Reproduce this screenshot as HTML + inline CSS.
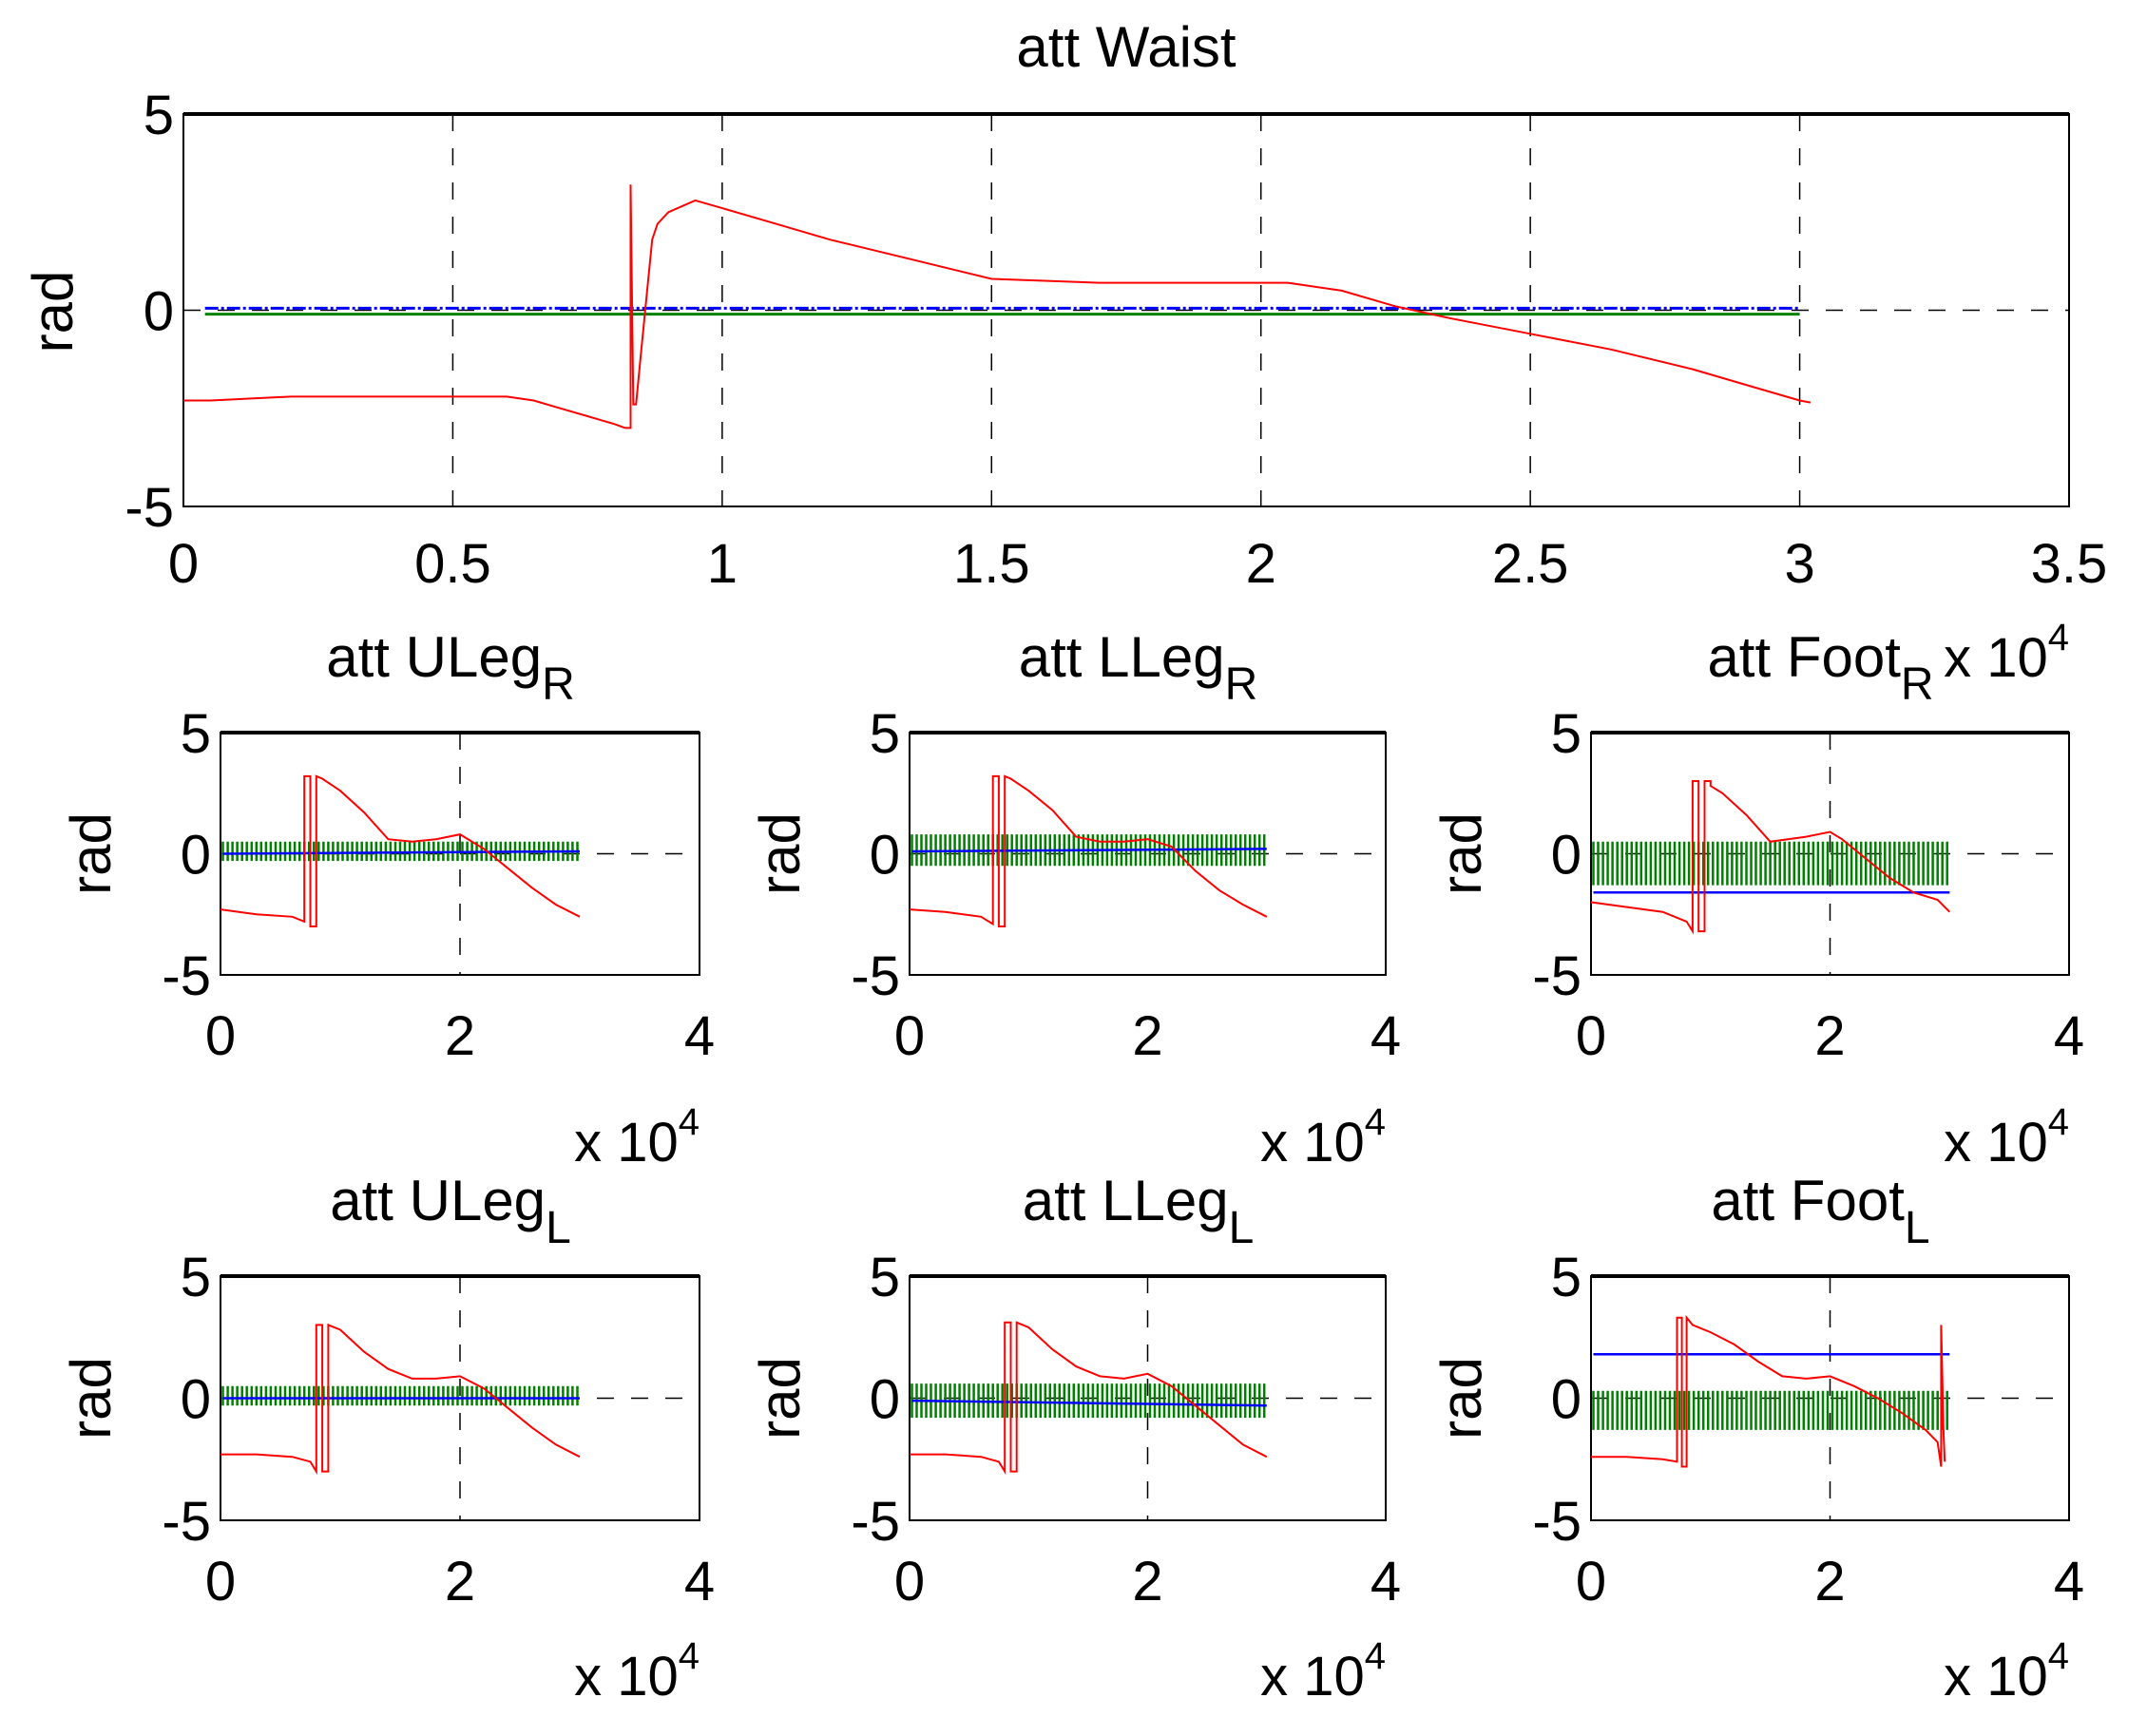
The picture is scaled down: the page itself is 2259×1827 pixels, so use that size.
<!DOCTYPE html>
<html><head><meta charset="utf-8"><style>
html,body{margin:0;padding:0;background:#fff}
svg text{font-family:"Liberation Sans",sans-serif;fill:#000}
</style></head><body>
<svg id="fig" xmlns="http://www.w3.org/2000/svg" width="2259" height="1822" viewBox="0 0 2259 1822"></svg>
<script>
// ---- data (x in units of 1e4 samples, y in rad) ----
const waistRedX=[0,0.05,0.2,0.4,0.6,0.65,0.7,0.75,0.8,0.82,0.83,0.83,0.835,0.84,0.85,0.86,0.87,0.88,0.9,0.95,1.0,1.1,1.2,1.35,1.5,1.7,1.9,2.05,2.15,2.25,2.35,2.5,2.65,2.8,2.9,3.0,3.02];
const waistRedY=[-2.3,-2.3,-2.2,-2.2,-2.2,-2.3,-2.5,-2.7,-2.9,-3.0,-3.0,3.2,-2.4,-2.4,-1.0,0.4,1.8,2.2,2.5,2.8,2.6,2.2,1.8,1.3,0.8,0.7,0.7,0.7,0.5,0.1,-0.2,-0.6,-1.0,-1.5,-1.9,-2.3,-2.35];
const waistBlueX=[0.04,3.0];
const waistBlueY=[0.05,0.05];
const waistGreenX=[0.04,3.0];
const waistGreenY=[-0.1,-0.1];
const xTicksTop=[0,0.5,1,1.5,2,2.5,3,3.5];
const xTickLabelsTop=["0","0.5","1","1.5","2","2.5","3","3.5"];
const yTicks=[-5,0,5];
const yTickLabels=["-5","0","5"];
const xTicksSmall=[0,2,4];
const xTickLabelsSmall=["0","2","4"];

const ulegRRedX=[0,0.3,0.6,0.7,0.7,0.75,0.75,0.8,0.8,0.85,1.0,1.2,1.4,1.6,1.8,2.0,2.2,2.4,2.6,2.8,3.0];
const ulegRRedY=[-2.3,-2.5,-2.6,-2.8,3.2,3.2,-3.0,-3.0,3.2,3.1,2.6,1.7,0.6,0.5,0.6,0.8,0.2,-0.6,-1.4,-2.1,-2.6];
const ulegRBlue=[0.0,0.1];
const ulegRGreenLo=[-0.3,-0.3];
const ulegRGreenHi=[0.5,0.5];

const llegRRedX=[0,0.3,0.6,0.7,0.7,0.75,0.75,0.8,0.8,0.85,1.0,1.2,1.4,1.6,1.8,2.0,2.2,2.4,2.6,2.8,3.0];
const llegRRedY=[-2.3,-2.4,-2.6,-2.9,3.2,3.2,-3.0,-3.0,3.2,3.1,2.6,1.8,0.7,0.5,0.5,0.6,0.3,-0.7,-1.5,-2.1,-2.6];
const llegRBlue=[0.1,0.2];
const llegRGreenLo=[-0.5,-0.5];
const llegRGreenHi=[0.8,0.8];

const footRRedX=[0,0.3,0.6,0.8,0.85,0.85,0.9,0.9,0.95,0.95,1.0,1.0,1.1,1.3,1.5,1.8,2.0,2.1,2.3,2.5,2.7,2.9,3.0];
const footRRedY=[-2.0,-2.2,-2.4,-2.8,-3.2,3.0,3.0,-3.2,-3.2,3.0,3.0,2.8,2.5,1.6,0.5,0.7,0.9,0.6,-0.2,-1.0,-1.6,-1.9,-2.4];
const footRBlue=[-1.6,-1.6];
const footRGreenLo=[-1.3,-1.3];
const footRGreenHi=[0.5,0.5];

const ulegLRedX=[0,0.3,0.6,0.75,0.8,0.8,0.85,0.85,0.9,0.9,1.0,1.2,1.4,1.6,1.8,2.0,2.2,2.4,2.6,2.8,3.0];
const ulegLRedY=[-2.3,-2.3,-2.4,-2.6,-3.0,3.0,3.0,-3.0,-3.0,3.0,2.8,1.9,1.2,0.8,0.8,0.9,0.4,-0.4,-1.2,-1.9,-2.4];
const ulegLBlue=[0.0,0.0];
const ulegLGreenLo=[-0.3,-0.3];
const ulegLGreenHi=[0.5,0.5];

const llegLRedX=[0,0.3,0.6,0.75,0.8,0.8,0.85,0.85,0.9,0.9,1.0,1.2,1.4,1.6,1.8,2.0,2.2,2.4,2.6,2.8,3.0];
const llegLRedY=[-2.3,-2.3,-2.4,-2.6,-3.0,3.1,3.1,-3.0,-3.0,3.1,2.9,2.0,1.3,0.9,0.8,1.0,0.5,-0.3,-1.1,-1.9,-2.4];
const llegLBlue=[-0.1,-0.3];
const llegLGreenLo=[-0.8,-0.8];
const llegLGreenHi=[0.6,0.6];

const footLRedX=[0,0.3,0.6,0.72,0.72,0.76,0.76,0.8,0.8,0.85,1.0,1.2,1.4,1.6,1.8,2.0,2.2,2.4,2.6,2.8,2.9,2.93,2.93,2.95,2.96];
const footLRedY=[-2.4,-2.4,-2.5,-2.6,3.3,3.3,-2.8,-2.8,3.3,3.0,2.7,2.2,1.5,0.9,0.8,0.9,0.5,0.0,-0.6,-1.3,-1.8,-2.8,3.0,-1.5,-2.6];
const footLBlue=[1.8,1.8];
const footLGreenLo=[-1.3,-1.3];
const footLGreenHi=[0.3,0.3];

// ---- drawing ----
const NS="http://www.w3.org/2000/svg";
const svg=document.getElementById('fig');
function el(tag,attrs,parent,txt){const e=document.createElementNS(NS,tag);for(const k in attrs)e.setAttribute(k,attrs[k]);if(txt!==undefined)e.textContent=txt;(parent||svg).appendChild(e);return e;}
function axes(L,R,T,B,xmax){return {sx:v=>L+(R-L)*v/xmax,sy:v=>T+(B-T)*(5-v)/10,L,R,T,B};}
function pts(a,xs,ys){return xs.map((x,i)=>a.sx(x).toFixed(1)+','+a.sy(ys[i]).toFixed(1)).join(' ');}

const FS=58;
function frame(g,a,xt,xl,vgrid,xoff){
  el('rect',{x:a.L,y:a.T,width:a.R-a.L,height:a.B-a.T,fill:'#fff',stroke:'#000','stroke-width':2},g);
  vgrid.forEach(v=>{const l=el('line',{x1:a.sx(v),x2:a.sx(v),y1:a.T,y2:a.B,stroke:'#000','stroke-width':1.5,'stroke-dasharray':'18,18'},g);});
  const h=el('line',{x1:a.L,x2:a.R,y1:a.sy(0),y2:a.sy(0),stroke:'#000','stroke-width':1.5,'stroke-dasharray':'18,18'},g);
  
  el('line',{x1:a.L,x2:a.R,y1:a.T,y2:a.T,stroke:'#000','stroke-width':4},g);
  xt.forEach((v,i)=>{const t=el('text',{x:a.sx(v),y:a.B+xoff,'font-size':FS,'text-anchor':'middle'},g,xl[i]);});
  yTicks.forEach((v,i)=>{const t=el('text',{x:a.L-10,y:a.sy(v)+21,'font-size':FS,'text-anchor':'end'},g,yTickLabels[i]);});
}
function ylabel(g,x,y){const t=el('text',{x:x,y:y,'font-size':60,'text-anchor':'middle',transform:`rotate(-90 ${x} ${y})`},g,'rad');}

// top plot
const gTop=el('g',{});
const aTop=axes(193,2177,120,533,3.5);
frame(gTop,aTop,xTicksTop,xTickLabelsTop,[0.5,1,1.5,2,2.5,3],80);
let t=el('text',{x:1185,y:70,'font-size':60,'text-anchor':'middle'},gTop,'att Waist');
ylabel(gTop,76,328);
let ex0=el('text',{x:2177,y:712,'font-size':58,'text-anchor':'end'},gTop);
el('tspan',{},ex0,'x 10');el('tspan',{dy:-28,'font-size':40},ex0,'4');
let s=el('polyline',{points:pts(aTop,waistGreenX,waistGreenY),fill:'none',stroke:'#008000','stroke-width':3},gTop);
s=el('polyline',{points:pts(aTop,waistBlueX,waistBlueY),fill:'none',stroke:'#0000ff','stroke-width':3,'stroke-dasharray':'14,3,3,3'},gTop);
s=el('polyline',{points:pts(aTop,waistRedX,waistRedY),fill:'none',stroke:'#ff0000','stroke-width':2},gTop);

// small plots
const cols=[[232,736],[957,1458],[1674,2177]];
const rows=[[771,1026],[1343,1600]];
const expOff=[196,184];
const subs=[
 {r:0,c:0,title:'att ULeg',sub:'R',rx:ulegRRedX,ry:ulegRRedY,b:ulegRBlue,lo:ulegRGreenLo,hi:ulegRGreenHi,vg:[2],name:'uleg-r-plot'},
 {r:0,c:1,title:'att LLeg',sub:'R',rx:llegRRedX,ry:llegRRedY,b:llegRBlue,lo:llegRGreenLo,hi:llegRGreenHi,vg:[],name:'lleg-r-plot'},
 {r:0,c:2,title:'att Foot',sub:'R',rx:footRRedX,ry:footRRedY,b:footRBlue,lo:footRGreenLo,hi:footRGreenHi,vg:[2],name:'foot-r-plot'},
 {r:1,c:0,title:'att ULeg',sub:'L',rx:ulegLRedX,ry:ulegLRedY,b:ulegLBlue,lo:ulegLGreenLo,hi:ulegLGreenHi,vg:[2],name:'uleg-l-plot'},
 {r:1,c:1,title:'att LLeg',sub:'L',rx:llegLRedX,ry:llegLRedY,b:llegLBlue,lo:llegLGreenLo,hi:llegLGreenHi,vg:[2],name:'lleg-l-plot'},
 {r:1,c:2,title:'att Foot',sub:'L',rx:footLRedX,ry:footLRedY,b:footLBlue,lo:footLGreenLo,hi:footLGreenHi,vg:[2],name:'foot-l-plot'}
];
subs.forEach(p=>{
  const [L,R]=cols[p.c],[T,B]=rows[p.r];
  const a=axes(L,R,T,B,4);
  const g=el('g',{});
  frame(g,a,xTicksSmall,xTickLabelsSmall,p.vg,84);
  ylabel(g,L-116,(T+B)/2);
  const tt=el('text',{x:(L+R)/2-10,y:T-59,'font-size':60,'text-anchor':'middle'},g);
  
  el('tspan',{},tt,p.title);el('tspan',{dy:24,'font-size':48},tt,p.sub);
  const ex=el('text',{x:R,y:B+expOff[p.r],'font-size':58,'text-anchor':'end'},g);
  el('tspan',{},ex,'x 10');el('tspan',{dy:-28,'font-size':40},ex,'4');
  // green band: vertical hatch between lo and hi over data range 0..3
  let d='';for(let x=0.02;x<=3.0;x+=0.04){const px=a.sx(x).toFixed(1);d+=`M${px},${a.sy(p.hi[0]).toFixed(1)}V${a.sy(p.lo[0]).toFixed(1)}`;}
  let s=el('path',{d:d,stroke:'#008000','stroke-width':2.5,fill:'none'},g);
  s=el('polyline',{points:pts(a,[0.02,3.0],p.b),fill:'none',stroke:'#0000ff','stroke-width':2.5},g);
  s=el('polyline',{points:pts(a,p.rx,p.ry),fill:'none',stroke:'#ff0000','stroke-width':2},g);
});
</script>
</body></html>
